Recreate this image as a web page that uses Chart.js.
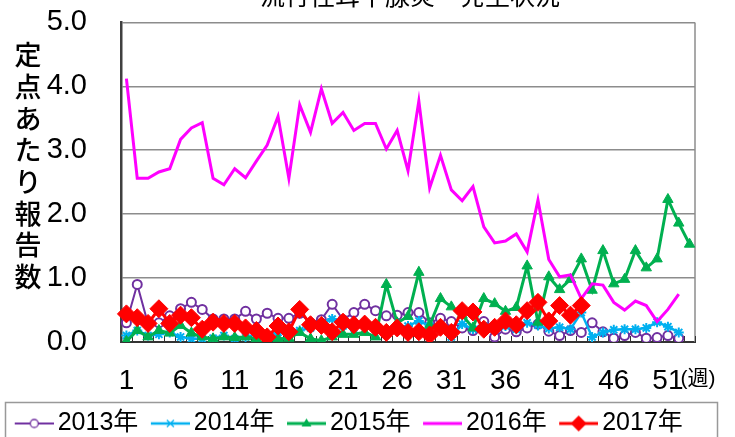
<!DOCTYPE html>
<html>
<head>
<meta charset="utf-8">
<script src="https://cdn.jsdelivr.net/npm/chart.js@4.4.0/dist/chart.umd.min.js"></script>
<style>
  body { margin: 0; background: #fff; }
</style>
</head>
<body>
<canvas id="chart" width="735" height="437"></canvas>
<script>
// ---------------------------------------------
// DATA: reports per sentinel site, by week
// ---------------------------------------------
const weekLabels = ["1","2","3","4","5","6","7","8","9","10",
    "11","12","13","14","15","16","17","18","19","20",
    "21","22","23","24","25","26","27","28","29","30",
    "31","32","33","34","35","36","37","38","39","40",
    "41","42","43","44","45","46","47","48","49","50",
    "51","52","53"];
const shownWeeks = ["1","6","11","16","21","26","31","36","41","46","51"];

const y2013 = [0.30, 0.90, 0.28, 0.30, 0.41, 0.52, 0.62, 0.51, 0.36, 0.36,
    0.36, 0.48, 0.36, 0.45, 0.37, 0.37, 0.45, 0.30, 0.35, 0.59,
    0.35, 0.46, 0.59, 0.49, 0.41, 0.42, 0.46, 0.46, 0.30, 0.37,
    0.32, 0.22, 0.18, 0.32, 0.08, 0.20, 0.16, 0.22, 0.28, 0.17,
    0.10, 0.18, 0.15, 0.30, 0.16, 0.06, 0.10, 0.15, 0.06, 0.07,
    0.10, 0.06];
const y2014 = [0.10, 0.18, 0.10, 0.12, 0.15, 0.08, 0.05, 0.05, 0.06, 0.10,
    0.05, 0.08, 0.12, 0.10, 0.15, 0.20, 0.18, 0.22, 0.30, 0.36,
    0.25, 0.22, 0.25, 0.20, 0.18, 0.22, 0.25, 0.33, 0.25, 0.20,
    0.08, 0.28, 0.20, 0.25, 0.22, 0.25, 0.20, 0.30, 0.26, 0.21,
    0.23, 0.20, 0.46, 0.08, 0.15, 0.19, 0.20, 0.20, 0.22, 0.31,
    0.24, 0.15];
const y2015 = [0.01, 0.18, 0.08, 0.18, 0.14, 0.26, 0.14, 0.08, 0.05, 0.08,
    0.07, 0.08, 0.05, 0.08, 0.05, 0.06, 0.15, 0.05, 0.02, 0.08,
    0.12, 0.12, 0.15, 0.08, 0.90, 0.30, 0.40, 1.09, 0.26, 0.68,
    0.55, 0.42, 0.22, 0.68, 0.60, 0.48, 0.54, 1.19, 0.31, 1.02,
    0.82, 0.98, 1.30, 0.81, 1.43, 0.91, 0.98, 1.43, 1.16, 1.30,
    2.23, 1.86, 1.53];
const y2016 = [4.12, 2.56, 2.56, 2.66, 2.71, 3.17, 3.35, 3.43, 2.56, 2.46,
    2.71, 2.57, 2.83, 3.08, 3.53, 2.56, 3.71, 3.28, 3.96, 3.42,
    3.59, 3.31, 3.42, 3.42, 3.02, 3.31, 2.68, 3.77, 2.41, 2.92,
    2.38, 2.21, 2.43, 1.80, 1.55, 1.58, 1.69, 1.41, 2.22, 1.29,
    1.02, 1.05, 0.68, 0.91, 0.89, 0.62, 0.50, 0.64, 0.57, 0.32,
    0.51, 0.75];
const y2017 = [0.44, 0.38, 0.29, 0.52, 0.29, 0.42, 0.38, 0.20, 0.31, 0.29,
    0.29, 0.22, 0.18, 0.08, 0.25, 0.16, 0.51, 0.27, 0.26, 0.16,
    0.31, 0.27, 0.28, 0.23, 0.15, 0.22, 0.15, 0.16, 0.11, 0.23,
    0.15, 0.49, 0.47, 0.20, 0.23, 0.33, 0.27, 0.49, 0.62, 0.33,
    0.57, 0.42, 0.57];

const titleText = "流行性耳下腺炎　発生状況";
const yTitle = "定点あたり報告数";
const weekUnit = "(週)";

const SANS = "'Liberation Sans', 'Noto Sans CJK JP', sans-serif";
const JP = "'Noto Sans CJK JP', sans-serif";

// line+marker pictures for the legend (mark sits in the right part)
function legendMark(color, style, lw) {
    const c = document.createElement("canvas");
    c.width = 50; c.height = 20;
    const g = c.getContext("2d");
    const cx = 30.5, cy = 10;
    g.strokeStyle = color;
    g.fillStyle = color;
    g.lineWidth = lw;
    g.beginPath(); g.moveTo(11, cy); g.lineTo(50, cy); g.stroke();
    g.lineWidth = 1.3;
    g.beginPath();
    if (style === "circle") {
        g.fillStyle = "#fff";
        g.arc(cx, cy, 4, 0, Math.PI * 2);
        g.fill(); g.stroke();
    } else if (style === "cross") {
        g.moveTo(cx - 3.5, cy - 3.5); g.lineTo(cx + 3.5, cy + 3.5);
        g.moveTo(cx + 3.5, cy - 3.5); g.lineTo(cx - 3.5, cy + 3.5);
        g.stroke();
    } else if (style === "triangle") {
        g.moveTo(cx, cy - 5); g.lineTo(cx + 5, cy + 3); g.lineTo(cx - 5, cy + 3); g.closePath();
        g.fill();
    } else if (style === "diamond") {
        g.moveTo(cx, cy - 8); g.lineTo(cx + 8, cy); g.lineTo(cx, cy + 8); g.lineTo(cx - 8, cy); g.closePath();
        g.fill();
    }
    return c;
}

const decor = {
    id: "decor",
    beforeDatasetsDraw(chart) {
        const { ctx, chartArea: a, scales: { x } } = chart;
        ctx.save();
        ctx.strokeStyle = "#8c8c8c";
        ctx.lineWidth = 1.5;
        ctx.beginPath(); ctx.moveTo(a.right, a.top); ctx.lineTo(a.right, a.bottom); ctx.stroke();
        // little inward ticks between weeks
        ctx.strokeStyle = "#333";
        ctx.lineWidth = 1;
        const half = (x.getPixelForValue(1) - x.getPixelForValue(0)) / 2;
        for (let i = 0; i <= weekLabels.length; i++) {
            const px = Math.round(x.getPixelForValue(i) - half) + 0.5;
            ctx.beginPath(); ctx.moveTo(px, a.bottom); ctx.lineTo(px, a.bottom - 6); ctx.stroke();
        }
        ctx.restore();
    },
    afterDraw(chart) {
        const { ctx } = chart;
        ctx.save();
        ctx.fillStyle = "#000";
        ctx.textAlign = "center";
        ctx.font = "25px " + JP;
        ctx.textBaseline = "alphabetic";
        ctx.fillText(titleText, 410, 5);

        ctx.font = "500 27px " + JP;
        ctx.textBaseline = "middle";
        [...yTitle].forEach((ch, i) => ctx.fillText(ch, 28, 55 + i * 31.7));

        ctx.font = "21px " + SANS;
        ctx.fillText(weekUnit, 698, 379);

        ctx.strokeStyle = "#999";
        ctx.lineWidth = 1.5;
        ctx.strokeRect(5.5, 402.5, 712, 60);
        ctx.restore();
    }
};

const ctx = document.getElementById("chart").getContext("2d");

new Chart(ctx, {
    type: "line",
    data: {
        labels: weekLabels,
        datasets: [
            {
                label: "2013年", data: y2013, order: 5,
                borderColor: "#7030a0", borderWidth: 2,
                pointStyle: "circle", pointRadius: 4.5, pointBorderWidth: 2,
                pointBackgroundColor: "#fff", pointBorderColor: "#7030a0",
                legendMark: legendMark("#7030a0", "circle", 2)
            },
            {
                label: "2014年", data: y2014, order: 4,
                borderColor: "#00b0f0", borderWidth: 2.5,
                pointStyle: "star", pointRadius: 5, pointBorderWidth: 2,
                pointBackgroundColor: "#00b0f0", pointBorderColor: "#00b0f0",
                legendMark: legendMark("#00b0f0", "cross", 2.5)
            },
            {
                label: "2015年", data: y2015, order: 3,
                borderColor: "#00b050", borderWidth: 3,
                pointStyle: "triangle", pointRadius: 6, pointBorderWidth: 1,
                pointBackgroundColor: "#00b050", pointBorderColor: "#00b050",
                legendMark: legendMark("#00b050", "triangle", 3)
            },
            {
                label: "2016年", data: y2016, order: 2,
                borderColor: "#ff00ff", borderWidth: 3,
                pointRadius: 0,
                legendMark: legendMark("#ff00ff", null, 3)
            },
            {
                label: "2017年", data: y2017, order: 1,
                borderColor: "#ff0000", borderWidth: 3,
                pointStyle: "rectRot", pointRadius: 9, pointBorderWidth: 1,
                pointBackgroundColor: "#ff0000", pointBorderColor: "#ff0000",
                legendMark: legendMark("#ff0000", "diamond", 3)
            }
        ]
    },
    options: {
        responsive: false,
        animation: false,
        layout: { padding: { left: 0, right: 40, top: 18, bottom: -9 } },
        plugins: {
            tooltip: { enabled: false },
            legend: {
                position: "bottom",
                labels: {
                    usePointStyle: true,
                    pointStyleWidth: 33,
                    padding: 10,
                    color: "#000",
                    font: { family: SANS, size: 25 },
                    sort: (a, b) => a.datasetIndex - b.datasetIndex,
                    generateLabels(chart) {
                        return chart.data.datasets.map((ds, i) => ({
                            text: ds.label,
                            datasetIndex: i,
                            pointStyle: ds.legendMark,
                            fillStyle: ds.borderColor,
                            strokeStyle: ds.borderColor,
                            lineWidth: 0,
                            fontColor: "#000",
                            hidden: false
                        }));
                    }
                }
            }
        },
        scales: {
            x: {
                offset: true,
                grid: { display: false },
                border: { color: "#333", width: 2 },
                ticks: {
                    autoSkip: false,
                    maxRotation: 0,
                    padding: 14,
                    color: "#000",
                    font: { family: SANS, size: 28 },
                    callback: (v, i) => shownWeeks.includes(weekLabels[i]) ? weekLabels[i] : ""
                },
                afterFit: s => { s.height = 59; }
            },
            y: {
                min: 0,
                max: 5,
                ticks: {
                    stepSize: 1,
                    padding: 5,
                    crossAlign: "near",
                    color: "#000",
                    font: { family: SANS, size: 29 },
                    // trailing en spaces keep the numbers away from the axis
                    callback: v => v.toFixed(1) + "\u2002\u2002"
                },
                grid: { color: "#8c8c8c", lineWidth: 1.5, drawTicks: false },
                border: { color: "#404040", width: 2.5 },
                afterFit: s => { s.width = 121; }
            }
        }
    },
    plugins: [decor]
});
</script>
</body>
</html>
